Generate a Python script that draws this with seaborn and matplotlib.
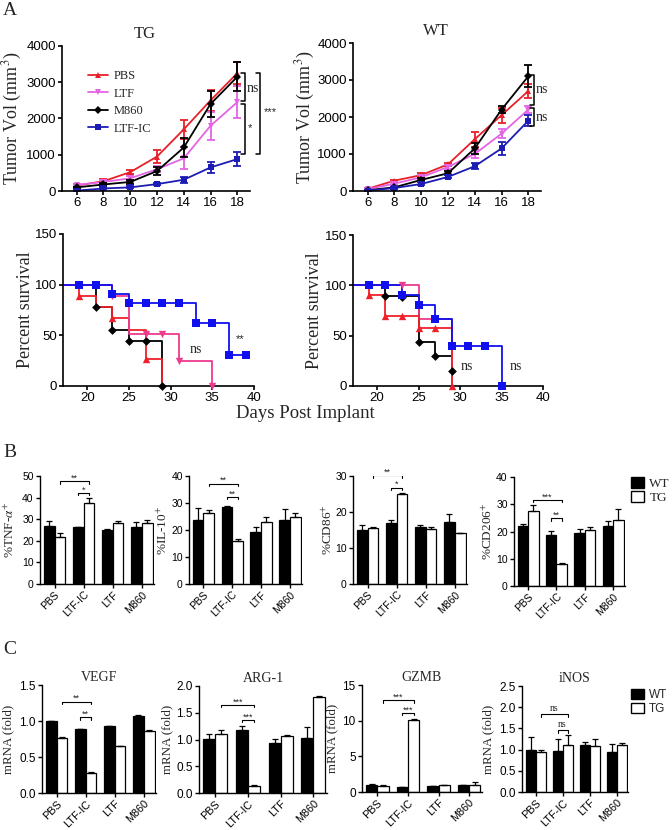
import numpy as np
import pandas as pd
import matplotlib
matplotlib.use("Agg")
import matplotlib.pyplot as plt
from matplotlib.patches import Patch
import seaborn as sns

# -------------------------- data --------------------------
days = [6, 8, 10, 12, 14, 16, 18]
groups = ["PBS", "LTF", "M860", "LTF-IC"]

# tumour volume (mm^3), TG mice
tg_pbs = [150, 270, 520, 950, 1700, 2500, 3250]
tg_pbs_err = [30, 50, 60, 170, 270, 280, 300]
tg_ltf = [170, 250, 350, 600, 900, 1800, 2450]
tg_ltf_err = [30, 40, 50, 80, 300, 380, 450]
tg_m860 = [100, 180, 250, 550, 1200, 2400, 3150]
tg_m860_err = [20, 30, 60, 100, 270, 350, 400]
tg_ltfic = [10, 70, 100, 190, 310, 650, 880]
tg_ltfic_err = [10, 20, 30, 30, 80, 150, 200]

# tumour volume (mm^3), WT mice
wt_pbs = [60, 280, 430, 720, 1400, 2050, 2700]
wt_pbs_err = [20, 30, 60, 50, 200, 200, 200]
wt_ltf = [50, 200, 370, 650, 1000, 1550, 2200]
wt_ltf_err = [20, 30, 50, 50, 100, 130, 100]
wt_m860 = [20, 100, 300, 480, 1150, 2200, 3100]
wt_m860_err = [10, 20, 40, 50, 150, 100, 300]
wt_ltfic = [10, 80, 190, 380, 670, 1150, 1900]
wt_ltfic_err = [10, 20, 40, 40, 80, 180, 150]

# survival step curves (time, percent) and marker points, TG
stg_pbs_t, stg_pbs_p = [0, 19, 21, 23, 25, 27, 29], [100, 89, 78, 67, 55, 27, 0]
stg_pbs_mt, stg_pbs_mp = [19, 23, 27], [89, 67, 27]
stg_ltf_t, stg_ltf_p = [0, 23, 25, 31, 35], [100, 89, 51, 25, 0]
stg_ltf_mt, stg_ltf_mp = [23, 27, 29, 31, 35], [89, 51, 51, 25, 0]
stg_m860_t, stg_m860_p = [0, 21, 23, 25, 29], [100, 78, 55, 44, 0]
stg_m860_mt, stg_m860_mp = [21, 23, 25, 27, 29], [78, 55, 44, 44, 0]
stg_ltfic_t, stg_ltfic_p = [0, 23, 25, 33, 37, 39], [100, 91, 82, 62, 31, 31]
stg_ltfic_mt = [19, 21, 23, 25, 27, 29, 31, 33, 35, 37, 39]
stg_ltfic_mp = [100, 100, 91, 82, 82, 82, 82, 62, 62, 31, 31]

# survival, WT
swt_pbs_t, swt_pbs_p = [0, 19, 21, 25, 29], [100, 90, 70, 58, 0]
swt_pbs_mt, swt_pbs_mp = [19, 21, 23, 25, 27, 29], [90, 70, 70, 58, 58, 0]
swt_ltf_t, swt_ltf_p = [0, 25, 29], [100, 67, 0]
swt_ltf_mt, swt_ltf_mp = [23], [100]
swt_m860_t, swt_m860_p = [0, 21, 25, 27, 29], [100, 89, 44, 30, 15]
swt_m860_mt, swt_m860_mp = [21, 23, 25, 27, 29], [89, 88, 44, 30, 15]
swt_ltfic_t, swt_ltfic_p = [0, 23, 25, 27, 29, 35], [100, 90, 80, 67, 40, 0]
swt_ltfic_mt = [19, 21, 23, 25, 27, 29, 31, 33, 35]
swt_ltfic_mp = [100, 100, 90, 80, 67, 40, 40, 40, 0]

# flow cytometry (%), panel B
cats = ["PBS", "LTF-IC", "LTF", "M860"]
tnf_wt, tnf_wt_err = [26.7, 26.2, 25.2, 26.5], [2.3, 0.3, 0.4, 2.4]
tnf_tg, tnf_tg_err = [21.9, 37.3, 28.1, 28.1], [1.6, 2.6, 1.1, 1.5]
il10_wt, il10_wt_err = [23.7, 28.6, 19.4, 23.7], [4.4, 0.3, 1.8, 3.9]
il10_tg, il10_tg_err = [26.3, 15.9, 23.0, 25.0], [1.1, 0.7, 2.0, 1.2]
cd86_wt, cd86_wt_err = [15.0, 17.0, 15.7, 17.3], [1.4, 0.9, 0.7, 2.1]
cd86_tg, cd86_tg_err = [15.5, 24.9, 15.4, 14.1], [0.2, 0.3, 0.3, 0.2]
cd206_wt, cd206_wt_err = [21.9, 18.8, 19.4, 22.0], [0.7, 1.3, 1.6, 2.0]
cd206_tg, cd206_tg_err = [27.7, 8.2, 20.7, 24.3], [2.0, 0.3, 0.9, 4.1]

# qPCR (fold), panel C
vegf_wt, vegf_wt_err = [1.0, 0.89, 0.93, 1.07], [0.0, 0.0, 0.0, 0.02]
vegf_tg, vegf_tg_err = [0.77, 0.28, 0.65, 0.86], [0.01, 0.01, 0.005, 0.01]
arg1_wt, arg1_wt_err = [1.01, 1.17, 0.93, 1.02], [0.1, 0.09, 0.08, 0.21]
arg1_tg, arg1_tg_err = [1.1, 0.13, 1.06, 1.8], [0.07, 0.02, 0.02, 0.01]
gzmb_wt, gzmb_wt_err = [1.03, 0.7, 0.85, 1.0], [0.05, 0.05, 0.05, 0.05]
gzmb_tg, gzmb_tg_err = [0.85, 10.1, 0.94, 1.03], [0.1, 0.15, 0.05, 0.35]
inos_wt, inos_wt_err = [1.0, 0.96, 1.12, 0.95], [0.3, 0.28, 0.06, 0.18]
inos_tg, inos_tg_err = [0.95, 1.11, 1.08, 1.12], [0.04, 0.23, 0.16, 0.03]

# -------------------------- style --------------------------
sns.set_style("ticks")
plt.rcParams['font.family'] = ['Liberation Sans', 'DejaVu Sans']
plt.rcParams['mathtext.fontset'] = 'stix'
SERIF = ['Liberation Serif', 'DejaVu Serif']

tum_colors = {"PBS": "#E8202A", "LTF": "#E464E4", "M860": "black", "LTF-IC": "#1C1CB4"}
surv_colors = {"PBS": "#F0202A", "LTF": "#EE3A8C", "M860": "black", "LTF-IC": "#1010EE"}
markers = {"PBS": "^", "LTF": "v", "M860": "D", "LTF-IC": "s"}
msizes = {"PBS": 5, "LTF": 5, "M860": 4, "LTF-IC": 5}

W, H = 672, 830
fig = plt.figure(figsize=(W / 100, H / 100), dpi=100)


def px_axes(x0, y0, x1, y1):
    """axes from pixel box (left, top, right, bottom)"""
    return fig.add_axes([x0 / W, 1 - y1 / H, (x1 - x0) / W, (y1 - y0) / H])


def style_ax(ax, lw=1.2, fs=9.5):
    sns.despine(ax=ax)
    for s in ("left", "bottom"):
        ax.spines[s].set_linewidth(lw)
        ax.spines[s].set_color("black")
    ax.tick_params(direction="out", length=3, width=lw, labelsize=fs, pad=1.5, colors="black")


def vbracket(ax, x, y0, y1, arm, lw=1.1):
    ax.plot([x - arm, x, x, x - arm], [y0, y0, y1, y1], color="black", lw=lw, clip_on=False)


# -------------------------- A: tumour growth --------------------------
def tumor_panel(ax, series, errs, title, label_x):
    for g in groups:
        sns.lineplot(x=days, y=series[g], ax=ax, color=tum_colors[g], marker=markers[g],
                     markersize=msizes[g], markeredgewidth=0, linewidth=1.3, label=g, legend=False)
        ax.errorbar(days, series[g], yerr=errs[g], fmt="none", ecolor=tum_colors[g],
                    elinewidth=1.3, capsize=3, capthick=1.3)
    ax.set_xlim(4.9, 18.95)
    ax.set_ylim(0, 4000)
    ax.set_xticks(days)
    ax.set_yticks([0, 1000, 2000, 3000, 4000])
    style_ax(ax)
    ax.set_ylabel(r"Tumor Vol (mm$^{3}$)", family=SERIF, fontsize=13)
    ax.yaxis.set_label_coords(label_x, 0.5)
    ax.set_xlabel("")
    ax.text(0.44, 1.03, title, transform=ax.transAxes, ha="center", va="bottom",
            family=SERIF, fontsize=12)


ax_tg = px_axes(62, 46, 250, 191)
tumor_panel(ax_tg,
            {"PBS": tg_pbs, "LTF": tg_ltf, "M860": tg_m860, "LTF-IC": tg_ltfic},
            {"PBS": tg_pbs_err, "LTF": tg_ltf_err, "M860": tg_m860_err, "LTF-IC": tg_ltfic_err},
            "TG", -0.2)
ax_tg.legend(loc="upper left", bbox_to_anchor=(0.14, 0.835), frameon=False, borderpad=0,
             borderaxespad=0, prop={"family": SERIF, "size": 9}, handlelength=1.6,
             labelspacing=0.45, handletextpad=0.4)
vbracket(ax_tg, 18.56, 3250, 2490, 0.3)
vbracket(ax_tg, 18.56, 2390, 1020, 0.3)
vbracket(ax_tg, 19.68, 3250, 1020, 0.3)
ax_tg.text(19.15, 2840, "ns", family=SERIF, fontsize=10, ha="center", va="center", clip_on=False)
ax_tg.text(18.95, 1730, "*", fontsize=8, ha="center", va="center", clip_on=False)
ax_tg.text(20.5, 2180, "***", fontsize=8, ha="center", va="center", clip_on=False)

ax_wt = px_axes(353, 43, 541, 191)
tumor_panel(ax_wt,
            {"PBS": wt_pbs, "LTF": wt_ltf, "M860": wt_m860, "LTF-IC": wt_ltfic},
            {"PBS": wt_pbs_err, "LTF": wt_ltf_err, "M860": wt_m860_err, "LTF-IC": wt_ltfic_err},
            "WT", -0.19)
vbracket(ax_wt, 18.4, 3125, 2330, 0.25)
vbracket(ax_wt, 18.4, 2240, 1760, 0.25)
ax_wt.text(19.0, 2735, "ns", family=SERIF, fontsize=10, ha="center", va="center", clip_on=False)
ax_wt.text(19.0, 1995, "ns", family=SERIF, fontsize=10, ha="center", va="center", clip_on=False)


# -------------------------- A: survival --------------------------
def surv_curve(ax, t, p, mt, mp, g, ms):
    sns.lineplot(x=t, y=p, ax=ax, color=surv_colors[g], drawstyle="steps-post", linewidth=1.3)
    sns.scatterplot(x=mt, y=mp, ax=ax, color=surv_colors[g], marker=markers[g], s=ms,
                    linewidth=0, zorder=3, clip_on=False)


def surv_style(ax, label_x):
    ax.set_xlim(17.1, 40)
    ax.set_ylim(0, 150)
    ax.set_xticks([20, 25, 30, 35, 40])
    ax.set_yticks([0, 50, 100, 150])
    style_ax(ax)
    ax.set_ylabel("Percent survival", family=SERIF, fontsize=13)
    ax.yaxis.set_label_coords(label_x, 0.5)


ax_s1 = px_axes(63, 234, 254, 386)
surv_curve(ax_s1, stg_m860_t, stg_m860_p, stg_m860_mt, stg_m860_mp, "M860", 20)
surv_curve(ax_s1, stg_pbs_t, stg_pbs_p, stg_pbs_mt, stg_pbs_mp, "PBS", 28)
surv_curve(ax_s1, stg_ltf_t, stg_ltf_p, stg_ltf_mt, stg_ltf_mp, "LTF", 28)
surv_curve(ax_s1, stg_ltfic_t, stg_ltfic_p, stg_ltfic_mt, stg_ltfic_mp, "LTF-IC", 32)
surv_style(ax_s1, -0.15)
ax_s1.text(33.0, 36, "ns", family=SERIF, fontsize=10, ha="center", va="center")
ax_s1.text(38.4, 46, "**", fontsize=8, ha="center", va="center")

ax_s2 = px_axes(353, 235, 543, 386)
surv_curve(ax_s2, swt_m860_t, swt_m860_p, swt_m860_mt, swt_m860_mp, "M860", 20)
surv_curve(ax_s2, swt_ltf_t, swt_ltf_p, swt_ltf_mt, swt_ltf_mp, "LTF", 28)
surv_curve(ax_s2, swt_pbs_t, swt_pbs_p, swt_pbs_mt, swt_pbs_mp, "PBS", 28)
surv_curve(ax_s2, swt_ltfic_t, swt_ltfic_p, swt_ltfic_mt, swt_ltfic_mp, "LTF-IC", 32)
surv_style(ax_s2, -0.16)
ax_s2.text(30.8, 19, "ns", family=SERIF, fontsize=10, ha="center", va="center")
ax_s2.text(36.7, 19, "ns", family=SERIF, fontsize=10, ha="center", va="center")

fig.text(305 / W, 1 - 413 / H, "Days Post Implant", family=SERIF, fontsize=13.5,
         ha="center", va="center")


# -------------------------- B / C: bar panels --------------------------
def bar_panel(ax, wt, wt_err, tg, tg_err, ymax, ystep, ylabel, sig, sig_y, ytick_fs,
              xtick_fs, lab_fs, label_x, fmt=None, title=None):
    df = pd.DataFrame({"group": cats + cats, "geno": ["WT"] * 4 + ["TG"] * 4, "val": wt + tg})
    sns.barplot(data=df, x="group", y="val", hue="geno", order=cats, hue_order=["WT", "TG"],
                palette={"WT": "black", "TG": "white"}, edgecolor="black", linewidth=0.9,
                width=0.74, saturation=1, errorbar=None, legend=False, ax=ax)
    centers = []
    for cont, err in zip(ax.containers, [wt_err, tg_err]):
        xs = [p.get_x() + p.get_width() / 2 for p in cont]
        hs = [p.get_height() for p in cont]
        ax.errorbar(xs, hs, yerr=[np.zeros(len(err)), err], fmt="none", ecolor="black",
                    elinewidth=0.9, capsize=2.2, capthick=0.9, zorder=3)
        centers.append(xs)
    ax.set_xlim(-0.5, 3.42)
    ax.set_ylim(0, ymax)
    ax.set_yticks(np.arange(0, ymax + ystep / 2, ystep))
    if fmt:
        ax.set_yticklabels([fmt.format(v) for v in np.arange(0, ymax + ystep / 2, ystep)])
    style_ax(ax, lw=1.0, fs=ytick_fs)
    ax.set_xticks(range(len(cats)))
    ax.set_xticklabels(cats, rotation=45, ha="right", rotation_mode="anchor", fontsize=xtick_fs)
    ax.tick_params(axis="x", pad=1)
    ax.set_xlabel("")
    ax.set_ylabel(ylabel, family=SERIF, fontsize=lab_fs)
    ax.yaxis.set_label_coords(label_x, 0.5)
    if title:
        ax.set_title(title, family=SERIF, fontsize=10, pad=3)
    # significance brackets: PBS(TG)-LTF-IC(TG) and LTF-IC(WT)-LTF-IC(TG)
    drop = ymax * 0.025
    spans = [(centers[1][0], centers[1][1]), (centers[0][1], centers[1][1])]
    for (x0, x1), txt, y in zip(spans, sig, sig_y):
        ax.plot([x0, x0, x1, x1], [y - drop, y, y, y - drop], color="black", lw=0.8)
        if txt == "ns":
            ax.text((x0 + x1) / 2, y + ymax * 0.01, txt, ha="center", va="bottom",
                    family=SERIF, fontsize=7)
        else:
            ax.text((x0 + x1) / 2, y - ymax * 0.015, txt, ha="center", va="bottom", fontsize=6.5)


ax = px_axes(40, 476, 154, 584)
bar_panel(ax, tnf_wt, tnf_wt_err, tnf_tg, tnf_tg_err, 50, 10, "%TNF-" + r"$\alpha^{+}$",
          ["**", "*"], [47.5, 42.3], 7.5, 7.5, 9.5, -0.2)
ax = px_axes(189, 476, 302, 584)
bar_panel(ax, il10_wt, il10_wt_err, il10_tg, il10_tg_err, 40, 10, r"%IL-10$^{+}$",
          ["**", "**"], [37.2, 32.3], 7.5, 7.5, 9.5, -0.165)
ax = px_axes(353, 476, 467, 584)
bar_panel(ax, cd86_wt, cd86_wt_err, cd86_tg, cd86_tg_err, 30, 10, r"%CD86$^{+}$",
          ["**", "*"], [30.2, 26.8], 7.5, 7.5, 9.5, -0.16)
ax = px_axes(514, 477, 625, 586)
bar_panel(ax, cd206_wt, cd206_wt_err, cd206_tg, cd206_tg_err, 40, 10, r"%CD206$^{+}$",
          ["***", "**"], [31.7, 25.0], 7.5, 7.5, 9.5, -0.17)

ax = px_axes(42, 685, 156, 793)
bar_panel(ax, vegf_wt, vegf_wt_err, vegf_tg, vegf_tg_err, 1.5, 0.5, "mRNA (fold)",
          ["**", "**"], [1.27, 1.05], 8.5, 7.8, 9.3, -0.24, fmt="{:.1f}", title="VEGF")
ax = px_axes(199, 686, 327, 793)
bar_panel(ax, arg1_wt, arg1_wt_err, arg1_tg, arg1_tg_err, 2.0, 0.5, "mRNA (fold)",
          ["***", "***"], [1.65, 1.37], 8.5, 7.8, 9.3, -0.2, fmt="{:.1f}", title="ARG-1")
ax = px_axes(362, 685, 482, 792)
bar_panel(ax, gzmb_wt, gzmb_wt_err, gzmb_tg, gzmb_tg_err, 15, 5, "mRNA (fold)",
          ["***", "***"], [12.9, 11.1], 8.5, 7.8, 9.3, -0.2, title="GZMB")
ax = px_axes(522, 686, 628, 792)
bar_panel(ax, inos_wt, inos_wt_err, inos_tg, inos_tg_err, 2.5, 0.5, "mRNA (fold)",
          ["ns", "ns"], [1.83, 1.46], 8.5, 7.8, 9.3, -0.26, fmt="{:.1f}", title="iNOS")

# legends for genotype
handles = [Patch(facecolor="black", edgecolor="black", label="WT"),
           Patch(facecolor="white", edgecolor="black", label="TG")]
fig.legend(handles=handles, loc="upper left", bbox_to_anchor=(631 / W, 1 - 477 / H),
           frameon=False, prop={"family": SERIF, "size": 9.5}, handlelength=1.0,
           handleheight=0.9, labelspacing=0.1, handletextpad=0.4, borderpad=0,
           borderaxespad=0)
fig.legend(handles=handles, loc="upper left", bbox_to_anchor=(631 / W, 1 - 689 / H),
           frameon=False, prop={"size": 8.5}, handlelength=1.1,
           handleheight=0.9, labelspacing=0.15, handletextpad=0.4, borderpad=0,
           borderaxespad=0)

# panel letters
for letter, ytop in [("A", 2), ("B", 444), ("C", 641)]:
    fig.text(3 / W, 1 - ytop / H, letter, family=SERIF, fontsize=14, ha="left", va="top")

plt.savefig("out.png", dpi=100)
